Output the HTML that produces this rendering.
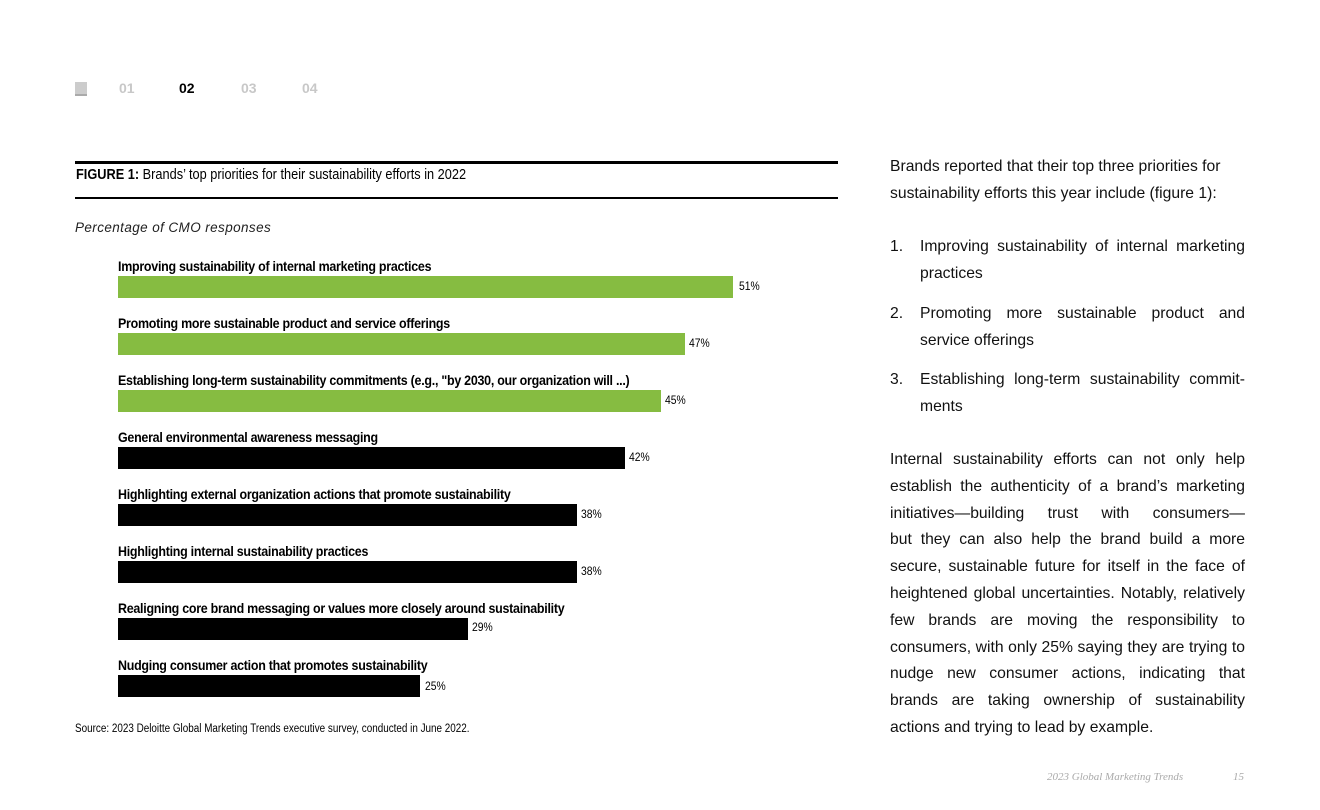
<!DOCTYPE html>
<html><head><meta charset="utf-8"><style>
body{margin:0;width:1320px;height:810px;background:#fff;font-family:"Liberation Sans",sans-serif;position:relative;overflow:hidden;color:#000}
.a{position:absolute;white-space:nowrap}
.nav{top:80px;font-weight:bold;font-size:14px;color:#c8c8c8}
.lab{position:absolute;left:118px;font-weight:bold;font-size:14px;letter-spacing:-0.3px;transform:scaleX(0.89);transform-origin:left center;white-space:nowrap;line-height:16px}
.bar{position:absolute;left:118px;height:22px}
.val{position:absolute;font-size:11.5px;line-height:14px;transform:scaleX(0.9);transform-origin:left}
.g{background:#86bc41}.k{background:#000}
.txt{position:absolute;left:890px;width:355px;font-size:15.7px;line-height:26.8px;letter-spacing:0;color:#111}
.j{text-align:justify}
.jl{text-align:justify;text-align-last:justify}
</style></head><body>
<div class="a" style="left:75px;top:82px;width:12px;height:12px;background:#ccc;border-bottom:2px solid #aaa"></div>
<div class="a nav" style="left:119px">01</div>
<div class="a nav" style="left:179px;color:#000">02</div>
<div class="a nav" style="left:241px">03</div>
<div class="a nav" style="left:302px">04</div>
<div class="a" style="left:75px;top:161px;width:763px;height:3px;background:#000"></div>
<div class="a" style="left:76px;top:167px;font-size:14.5px;transform:scaleX(0.88);transform-origin:left"><b>FIGURE 1:</b> Brands’ top priorities for their sustainability efforts in 2022</div>
<div class="a" style="left:75px;top:197px;width:763px;height:2px;background:#000"></div>
<div class="a" style="left:75px;top:220px;font-size:13.5px;font-style:italic;letter-spacing:0.4px;color:#222">Percentage of CMO responses</div>

<div class="lab" style="top:258px">Improving sustainability of internal marketing practices</div>
<div class="bar g" style="top:276px;width:615px"></div><div class="val" style="left:739px;top:280px">51%</div>
<div class="lab" style="top:315px">Promoting more sustainable product and service offerings</div>
<div class="bar g" style="top:333px;width:567px"></div><div class="val" style="left:689px;top:337px">47%</div>
<div class="lab" style="top:372px">Establishing long-term sustainability commitments (e.g., "by 2030, our organization will ...)</div>
<div class="bar g" style="top:390px;width:543px"></div><div class="val" style="left:665px;top:394px">45%</div>
<div class="lab" style="top:429px">General environmental awareness messaging</div>
<div class="bar k" style="top:447px;width:507px"></div><div class="val" style="left:629px;top:451px">42%</div>
<div class="lab" style="top:486px">Highlighting external organization actions that promote sustainability</div>
<div class="bar k" style="top:504px;width:459px"></div><div class="val" style="left:581px;top:508px">38%</div>
<div class="lab" style="top:543px">Highlighting internal sustainability practices</div>
<div class="bar k" style="top:561px;width:459px"></div><div class="val" style="left:581px;top:565px">38%</div>
<div class="lab" style="top:600px">Realigning core brand messaging or values more closely around sustainability</div>
<div class="bar k" style="top:618px;width:350px"></div><div class="val" style="left:472px;top:621px">29%</div>
<div class="lab" style="top:657px">Nudging consumer action that promotes sustainability</div>
<div class="bar k" style="top:675px;width:302px"></div><div class="val" style="left:425px;top:680px">25%</div>

<div class="a" style="left:75px;top:723px;font-size:11.5px;transform:scaleX(0.86);transform-origin:left">Source: 2023 Deloitte Global Marketing Trends executive survey, conducted in June 2022.</div>

<div class="txt" style="top:154px">Brands reported that their top three priorities for sustainability efforts this year include (figure 1):</div>
<div class="txt" style="top:234px"><span style="position:absolute;left:0">1.</span><div style="margin-left:30px" class="jl">Improving sustainability of internal marketing</div><div style="margin-left:30px">practices</div></div>
<div class="txt" style="top:301px"><span style="position:absolute;left:0">2.</span><div style="margin-left:30px" class="jl">Promoting more sustainable product and</div><div style="margin-left:30px">service offerings</div></div>
<div class="txt" style="top:367px"><span style="position:absolute;left:0">3.</span><div style="margin-left:30px" class="jl">Establishing long-term sustainability commit-</div><div style="margin-left:30px">ments</div></div>
<div class="txt" style="top:447px"><div class="jl">Internal sustainability efforts can not only help establish the authenticity of a brand’s marketing initiatives—building trust with consumers—</div><div class="j">but they can also help the brand build a more secure, sustainable future for itself in the face of heightened global uncertainties. Notably, relatively few brands are moving the responsibility to consumers, with only 25% saying they are trying to nudge new consumer actions, indicating that brands are taking ownership of sustainability actions and trying to lead by example.</div></div>

<div class="a" style="left:1047px;top:771px;font-size:11px;font-style:italic;font-family:'Liberation Serif',serif;color:#aaa">2023 Global Marketing Trends</div>
<div class="a" style="left:1233px;top:771px;font-size:11px;font-style:italic;font-family:'Liberation Serif',serif;color:#aaa">15</div>
</body></html>
